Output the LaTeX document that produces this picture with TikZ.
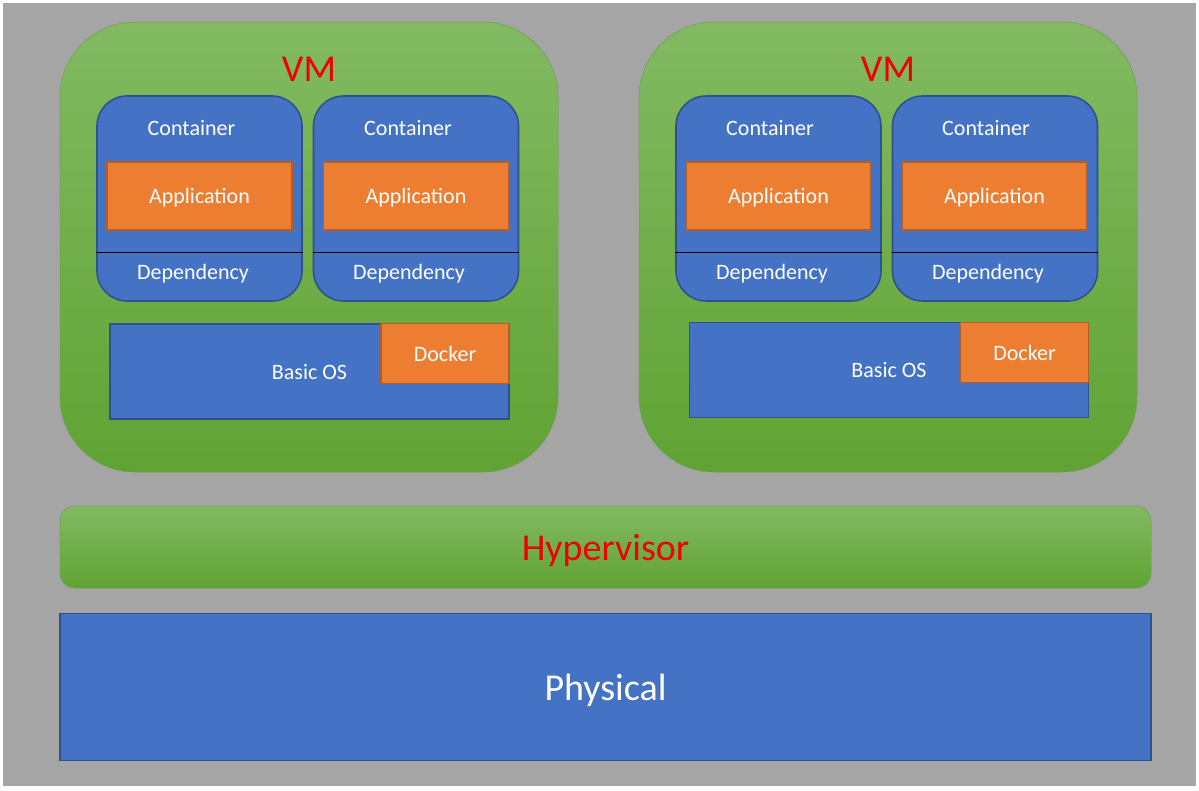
\documentclass[tikz,border=0pt]{standalone}
\usepackage{fontspec}
\setmainfont{Carlito}
\usepackage{xcolor}
\usepackage{tikz}

\definecolor{bggray}{HTML}{A5A5A5}
\definecolor{vmtop}{HTML}{82BA62}
\definecolor{vmbot}{HTML}{60A333}
\definecolor{boxblue}{HTML}{4472C4}
\definecolor{blueline}{HTML}{2F528F}
\definecolor{apporange}{HTML}{ED7D31}
\definecolor{orangeline}{HTML}{B25E25}
\definecolor{labelred}{HTML}{F00000}

\tikzset{
  vmbox/.style={rounded corners=75pt, top color=vmtop, bottom color=vmbot,
    draw=vmtop!85!black, line width=0.5pt, minimum width=498pt, minimum height=450pt, inner sep=0pt},
  bigred/.style={text=labelred, font=\fontsize{38}{42}\selectfont, inner sep=0pt, text depth=0pt},
  ctbox/.style={rounded corners=30pt, fill=boxblue, draw=blueline, line width=1.6pt,
    minimum width=205pt, minimum height=205pt, inner sep=0pt},
  smalltxt/.style={text=white, font=\fontsize{22}{26}\selectfont, inner sep=0pt, text depth=0pt},
  appbox/.style={smalltxt, fill=apporange, draw=orangeline, line width=1.6pt,
    minimum width=185pt, minimum height=68pt},
  osbox/.style={smalltxt, fill=boxblue, draw=blueline, line width=1.6pt,
    minimum width=399pt, minimum height=95pt},
  dockbox/.style={smalltxt, fill=apporange, draw=orangeline, line width=1.6pt,
    minimum width=128pt, minimum height=60pt},
  sepline/.style={black, line width=0.8pt}
}

\begin{document}
\begin{tikzpicture}[x=1pt, y=-1pt]
  % page and grey background
  \useasboundingbox (0,0) rectangle (1199,790);
  \fill[white] (0,0) rectangle (1199,790);
  \fill[bggray] (3,3) rectangle (1196,786);

  % left VM
  \node[vmbox] (vma) at (309,247) {};
  \node[bigred] (vmalbl) at (309,69) {VM};
  \node[ctbox] (ca1) at (199.5,198.5) {};
  \node[ctbox] (ca2) at (416,198.5) {};
  \node[smalltxt] (ca1lbl) at (191.5,128) {Container};
  \node[smalltxt] (ca2lbl) at (408,128) {Container};
  \node[appbox] (appa1) at (199.5,196) {Application};
  \node[appbox] (appa2) at (416,196) {Application};
  \draw[sepline] ([yshift=49pt]ca1.south west) -- ([yshift=49pt]ca1.south east);
  \draw[sepline] ([yshift=49pt]ca2.south west) -- ([yshift=49pt]ca2.south east);
  \node[smalltxt] (depa1) at (193,272) {Dependency};
  \node[smalltxt] (depa2) at (409,272) {Dependency};
  \node[osbox] (osa) at (309.5,371.5) {Basic OS};
  \node[dockbox] (docka) at (445,353.5) {Docker};

  % right VM
  \node[vmbox] (vmb) at (888,247) {};
  \node[bigred] (vmblbl) at (888,69) {VM};
  \node[ctbox] (cb1) at (778.5,198.5) {};
  \node[ctbox] (cb2) at (995,198.5) {};
  \node[smalltxt] (cb1lbl) at (770,128) {Container};
  \node[smalltxt] (cb2lbl) at (986,128) {Container};
  \node[appbox] (appb1) at (778.5,196) {Application};
  \node[appbox] (appb2) at (994.5,196) {Application};
  \draw[sepline] ([yshift=49pt]cb1.south west) -- ([yshift=49pt]cb1.south east);
  \draw[sepline] ([yshift=49pt]cb2.south west) -- ([yshift=49pt]cb2.south east);
  \node[smalltxt] (depb1) at (772,272) {Dependency};
  \node[smalltxt] (depb2) at (988,272) {Dependency};
  \node[osbox] (osb) at (889,370) {Basic OS};
  \node[dockbox] (dockb) at (1024.5,352.5) {Docker};

  % hypervisor layer
  \node[rounded corners=15pt, top color=vmtop, bottom color=vmbot, draw=vmtop!85!black,
    line width=0.5pt, minimum width=1091pt, minimum height=82pt, bigred] (hyper)
    at (605.5,547) {Hypervisor};

  % physical layer
  \node[fill=boxblue, draw=blueline, line width=1.8pt, minimum width=1091pt, minimum height=147pt,
    text=white, font=\fontsize{38}{42}\selectfont, inner sep=0pt, text depth=0pt] (phys)
    at (605.5,687) {Physical};
\end{tikzpicture}
\end{document}
